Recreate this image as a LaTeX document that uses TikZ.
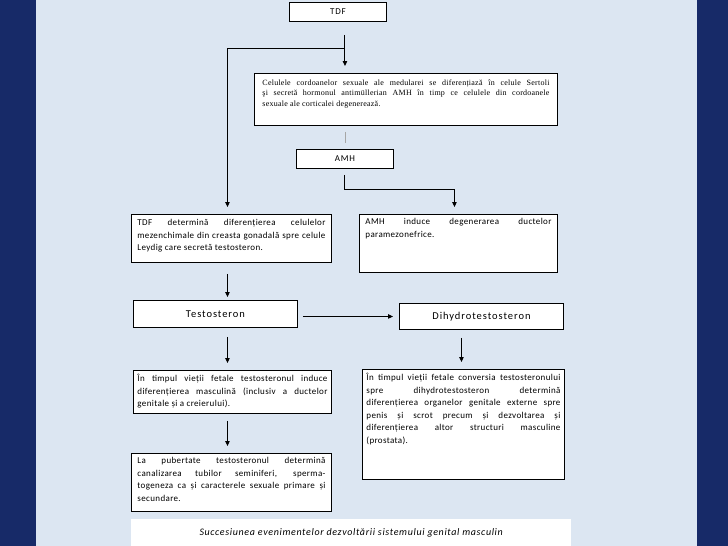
\documentclass[tikz,border=0pt]{standalone}
\usepackage{fontspec}
\usepackage{tikz}
\usetikzlibrary{arrows.meta, calc}
\setmainfont{Carlito}
\newfontfamily\bodyfont[LetterSpace=4]{Carlito}
\newfontfamily\titlefont[LetterSpace=9]{Carlito}
\newfontfamily\capfont[LetterSpace=6.5]{Carlito}
\newfontfamily\serifbox[LetterSpace=3]{Liberation Serif}
\definecolor{navyblue}{RGB}{23, 42, 104}
\definecolor{paleblue}{RGB}{220, 230, 242}
\newcommand{\boxpar}[3]{\parbox[c][#2][t]{#1}{\hbadness=10000\hyphenpenalty=10000\fontsize{9}{12.5}\bodyfont #3}}

\begin{document}
\begin{tikzpicture}[x=1pt, y=-1pt,
  txtbox/.style={draw, fill=white, line width=0.9pt, anchor=north west, inner ysep=4pt},
  title/.style={draw, fill=white, line width=0.9pt, anchor=north west, inner sep=0pt, font=\fontsize{9}{10}\titlefont},
  arr/.style={-{Triangle[length=5pt, width=4.5pt]}, line width=1pt}]
  \fill[paleblue] (0,0) rectangle (728,546);
  \fill[navyblue] (0,0) rectangle (36,546);
  \fill[navyblue] (697,0) rectangle (728,546);
  \useasboundingbox (0,0) rectangle (728,546);

  \node[title, minimum width=97pt, minimum height=19pt] (tdf) at (289,2) {TDF};
  \node[txtbox, inner xsep=8pt, inner ysep=6pt] (cel) at (254,73) {\boxpar{287pt}{40pt}{\serifbox\fontsize{8}{10.5}\selectfont
    Celulele cordoanelor sexuale ale medularei se diferențiază în celule Sertoli\linebreak
    şi secretă hormonul antimüllerian AMH în timp ce celulele din cordoanele\linebreak
    sexuale ale corticalei degenerează.}};
  \node[title, minimum width=97pt, minimum height=19pt] (amh) at (296,149) {AMH};
  \node[txtbox, inner xsep=6pt, inner ysep=5pt] (tdfd) at (131,214) {\boxpar{188pt}{38pt}{%
    TDF determină diferențierea celulelor\linebreak
    mezenchimale din creasta gonadală spre celule\linebreak
    Leydig care secretă testosteron.}};
  \node[txtbox, inner xsep=6pt] (amhd) at (359,214) {\boxpar{186pt}{50pt}{%
    AMH induce degenerarea ductelor\linebreak
    paramezonefrice.}};
  \node[title, minimum width=164pt, minimum height=27pt, font=\fontsize{10.5}{12}\titlefont] (test) at (133,300) {Testosteron};
  \node[title, minimum width=164pt, minimum height=26pt, font=\fontsize{10.5}{12}\titlefont] (dht) at (399,303) {Dihydrotestosteron};
  \node[txtbox, inner xsep=4pt] (fet) at (133,370) {\boxpar{190pt}{35pt}{%
    În timpul vieții fetale testosteronul induce\linebreak
    diferențierea masculină (inclusiv a ductelor\linebreak
    genitale și a creierului).}};
  \node[txtbox, inner xsep=4pt] (dhtd) at (362,369) {\boxpar{194pt}{102pt}{%
    În timpul vieții fetale conversia testosteronului\linebreak
    spre dihydrotestosteron determină\linebreak
    diferențierea organelor genitale externe spre\linebreak
    penis și scrot precum și dezvoltarea și\linebreak
    diferențierea altor structuri masculine\linebreak
    (prostata).}};
  \node[txtbox, inner xsep=6pt] (pub) at (131,453) {\boxpar{188pt}{50pt}{%
    La pubertate testosteronul determină\linebreak
    canalizarea tubilor seminiferi, sperma-\linebreak
    togeneza ca și caracterele sexuale primare și\linebreak
    secundare.}};
  \node[fill=white, anchor=north west, minimum width=440pt, minimum height=27pt, inner sep=0pt,
        font=\fontsize{10}{12}\capfont\itshape] (cap) at (131,519)
        {\raisebox{2pt}{Succesiunea evenimentelor dezvoltării sistemului genital masculin}};

  \draw[arr] ([yshift=-13pt]amh.north |- tdf.south) -- ([yshift=7pt]amh.north |- cel.north);
  \coordinate (split) at ([yshift=-27pt]amh.north |- tdf.south);
  \draw[arr] (split) -| ([xshift=-4pt, yshift=7pt]tdfd.north);
  \draw[gray!70, line width=0.9pt, shorten <=6pt, shorten >=6pt] (amh.north |- cel.south) -- (amh.north);
  \draw[arr] ([yshift=-6pt]amh.south) |- ([xshift=-4pt, yshift=25pt]amhd.north) -- ([xshift=-4pt, yshift=7pt]amhd.north);
  \draw[arr] ([xshift=-4pt, yshift=-11pt]tdfd.south) -- ([xshift=-4pt, yshift=3pt]tdfd.south |- test.north);
  \draw[arr] ([xshift=5pt]test.east |- dht.west) -- ([xshift=-6pt]dht.west);
  \draw[arr] ([xshift=-4pt, yshift=-9pt]tdfd.south |- test.south) -- ([xshift=-4pt, yshift=7pt]tdfd.south |- fet.north);
  \draw[arr] ([xshift=-2pt, yshift=-8pt]dhtd.north |- dht.south) -- ([xshift=-2pt, yshift=7pt]dhtd.north);
  \draw[arr] ([xshift=-4pt, yshift=-7pt]tdfd.south |- fet.south) -- ([xshift=-4pt, yshift=7pt]tdfd.south |- pub.north);
\end{tikzpicture}
\end{document}
